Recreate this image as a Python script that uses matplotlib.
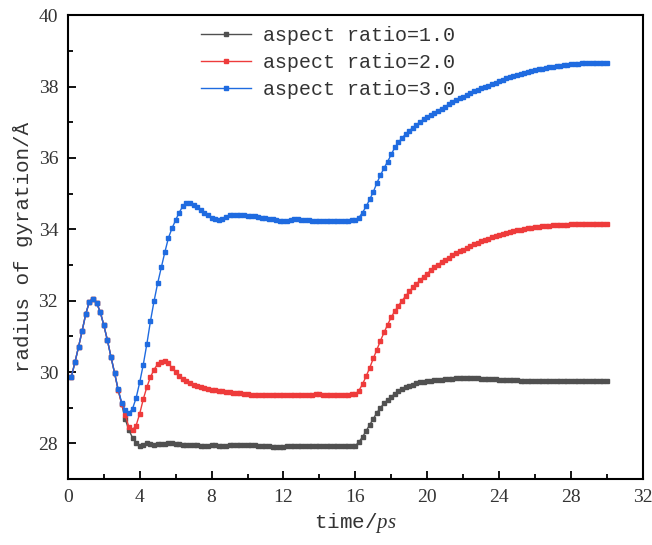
import numpy as np
import matplotlib
matplotlib.use("Agg")
import matplotlib.pyplot as plt
from matplotlib.ticker import MultipleLocator

# sampling grid: 0.2 ps steps from 0.2 to 30 ps
time = np.round(np.arange(1, 151) * 0.2, 1)

# radius of gyration, aspect ratio = 1.0
rg_ar1 = [
    29.87, 30.28, 30.71, 31.16, 31.63, 31.97, 32.06, 31.94, 31.69, 31.32,
    30.90, 30.43, 29.98, 29.50, 29.10, 28.67, 28.37, 28.16, 28.00, 27.94,
    27.95, 28.00, 27.98, 27.96, 27.97, 27.97, 27.99, 28.02, 28.01, 27.99,
    27.97, 27.96, 27.96, 27.95, 27.95, 27.95, 27.94, 27.94, 27.94, 27.95,
    27.95, 27.94, 27.94, 27.94, 27.95, 27.95, 27.95, 27.96, 27.96, 27.96,
    27.95, 27.95, 27.94, 27.94, 27.93, 27.92, 27.91, 27.90, 27.90, 27.91,
    27.92, 27.93, 27.94, 27.94, 27.94, 27.94, 27.93, 27.93, 27.93, 27.93,
    27.93, 27.93, 27.93, 27.93, 27.93, 27.93, 27.93, 27.93, 27.93, 27.93,
    28.04, 28.18, 28.35, 28.52, 28.69, 28.86, 29.00, 29.12, 29.22, 29.31,
    29.39, 29.46, 29.52, 29.57, 29.61, 29.65, 29.68, 29.71, 29.73, 29.75,
    29.76, 29.77, 29.78, 29.79, 29.80, 29.81, 29.81, 29.82, 29.82, 29.82,
    29.82, 29.82, 29.82, 29.82, 29.81, 29.81, 29.81, 29.80, 29.80, 29.79,
    29.79, 29.78, 29.78, 29.77, 29.77, 29.76, 29.76, 29.76, 29.75, 29.75,
    29.75, 29.75, 29.75, 29.75, 29.74, 29.74, 29.74, 29.74, 29.74, 29.74,
    29.74, 29.74, 29.74, 29.74, 29.74, 29.74, 29.74, 29.74, 29.74, 29.74,
]

# aspect ratio = 2.0
rg_ar2 = [
    29.87, 30.28, 30.71, 31.16, 31.63, 31.97, 32.06, 31.94, 31.69, 31.32,
    30.90, 30.43, 29.98, 29.50, 29.10, 28.79, 28.46, 28.38, 28.50, 28.83,
    29.24, 29.58, 29.86, 30.07, 30.22, 30.28, 30.30, 30.24, 30.12, 30.00,
    29.89, 29.80, 29.74, 29.69, 29.64, 29.60, 29.57, 29.55, 29.53, 29.51,
    29.49, 29.48, 29.46, 29.45, 29.44, 29.42, 29.41, 29.40, 29.39, 29.38,
    29.37, 29.36, 29.36, 29.36, 29.36, 29.37, 29.37, 29.37, 29.37, 29.37,
    29.36, 29.36, 29.36, 29.35, 29.35, 29.35, 29.36, 29.37, 29.38, 29.38,
    29.37, 29.36, 29.35, 29.35, 29.35, 29.35, 29.36, 29.37, 29.38, 29.38,
    29.48, 29.66, 29.88, 30.12, 30.38, 30.63, 30.88, 31.11, 31.33, 31.54,
    31.71, 31.86, 32.00, 32.13, 32.26, 32.37, 32.47, 32.57, 32.67, 32.76,
    32.85, 32.93, 33.01, 33.08, 33.15, 33.21, 33.27, 33.33, 33.38, 33.43,
    33.48, 33.53, 33.58, 33.62, 33.66, 33.70, 33.74, 33.78, 33.81, 33.84,
    33.87, 33.90, 33.93, 33.95, 33.97, 33.99, 34.01, 34.03, 34.05, 34.06,
    34.07, 34.08, 34.09, 34.10, 34.11, 34.12, 34.12, 34.13, 34.13, 34.14,
    34.14, 34.14, 34.14, 34.14, 34.14, 34.14, 34.14, 34.14, 34.14, 34.14,
]

# aspect ratio = 3.0
rg_ar3 = [
    29.87, 30.28, 30.71, 31.16, 31.63, 31.97, 32.06, 31.94, 31.69, 31.32,
    30.90, 30.43, 29.98, 29.52, 29.14, 28.93, 28.84, 28.97, 29.27, 29.71,
    30.21, 30.79, 31.43, 31.99, 32.49, 32.93, 33.36, 33.76, 34.03, 34.26,
    34.47, 34.65, 34.75, 34.74, 34.69, 34.62, 34.55, 34.47, 34.40, 34.32,
    34.28, 34.26, 34.30, 34.35, 34.39, 34.41, 34.41, 34.40, 34.39, 34.38,
    34.37, 34.36, 34.34, 34.32, 34.31, 34.30, 34.28, 34.26, 34.23, 34.22,
    34.24, 34.27, 34.28, 34.28, 34.27, 34.26, 34.25, 34.24, 34.24, 34.23,
    34.23, 34.22, 34.22, 34.22, 34.23, 34.23, 34.24, 34.24, 34.25, 34.26,
    34.33, 34.47, 34.64, 34.84, 35.05, 35.30, 35.52, 35.72, 35.90, 36.10,
    36.30, 36.44, 36.56, 36.67, 36.76, 36.85, 36.93, 37.01, 37.08, 37.14,
    37.20, 37.27, 37.33, 37.38, 37.44, 37.50, 37.56, 37.62, 37.67, 37.72,
    37.77, 37.82, 37.87, 37.91, 37.95, 37.99, 38.03, 38.07, 38.11, 38.15,
    38.19, 38.23, 38.26, 38.29, 38.32, 38.35, 38.38, 38.41, 38.43, 38.46,
    38.48, 38.50, 38.52, 38.54, 38.56, 38.57, 38.59, 38.60, 38.61, 38.62,
    38.63, 38.64, 38.65, 38.65, 38.66, 38.66, 38.66, 38.66, 38.66, 38.66,
]

labels = ["aspect ratio=1.0", "aspect ratio=2.0", "aspect ratio=3.0"]
colors = ["#505050", "#ee3b3b", "#1f6be0"]

plt.rcParams["mathtext.fontset"] = "custom"
plt.rcParams["mathtext.it"] = "Liberation Serif:italic"
plt.rcParams["mathtext.rm"] = "Liberation Serif"

fig = plt.figure(figsize=(6.52, 5.45), dpi=100)
ax = fig.add_axes([0.104, 0.121, 0.882, 0.851])

for ys, lab, c in zip([rg_ar1, rg_ar2, rg_ar3], labels, colors):
    ax.plot(time, ys, color=c, marker="s", markersize=3.3, linewidth=1.0,
            label=lab)

ax.set_xlim(0, 32)
ax.set_ylim(27, 40)
ax.xaxis.set_major_locator(MultipleLocator(4))
ax.xaxis.set_minor_locator(MultipleLocator(2))
ax.yaxis.set_major_locator(MultipleLocator(2))
ax.yaxis.set_minor_locator(MultipleLocator(1))
ax.tick_params(which="both", direction="in", top=False, right=False, width=1.3)
ax.tick_params(which="major", length=6, labelsize=14, pad=7, labelcolor="#333333")
ax.tick_params(which="minor", length=3.5)
for t in ax.get_xticklabels() + ax.get_yticklabels():
    t.set_fontfamily("Liberation Serif")
for s in ax.spines.values():
    s.set_linewidth(1.5)

ax.set_xlabel("time/$ps$", fontsize=15, family="Liberation Mono", color="#333333")
ax.set_ylabel("radius of gyration/Å", fontsize=15, family="Liberation Mono",
              color="#333333", labelpad=4)

leg = ax.legend(loc="upper left", bbox_to_anchor=(0.201, 1.016), frameon=False,
                prop={"family": "Liberation Mono", "size": 14.4},
                handlelength=2.5, labelspacing=0.4, handletextpad=0.6)
for txt in leg.get_texts():
    txt.set_color("#333333")

fig.savefig("out.png", dpi=100)
